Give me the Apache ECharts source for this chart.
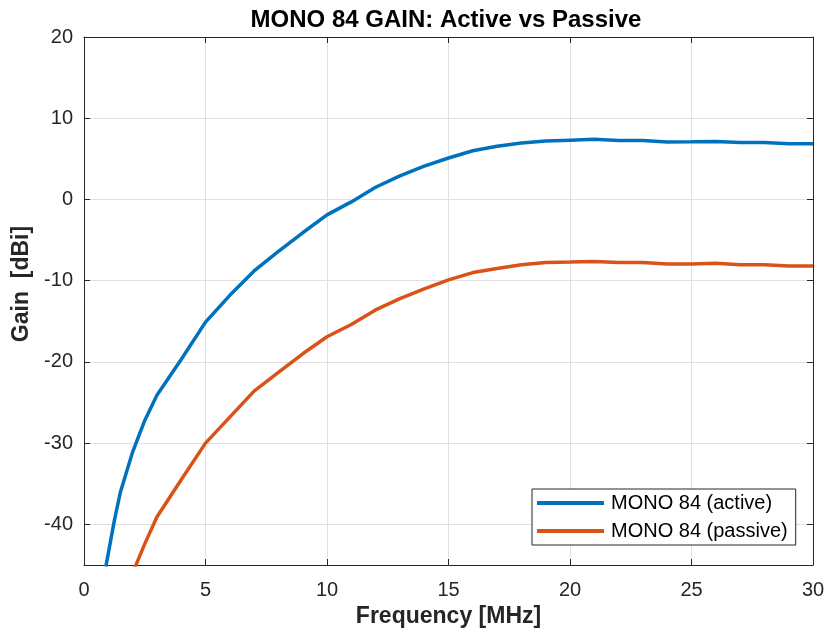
<!DOCTYPE html>
<html>
<head>
<meta charset="utf-8">
<script src="https://cdn.jsdelivr.net/npm/echarts@6/dist/echarts.min.js"></script>
<style>
html,body{margin:0;padding:0;background:#fff;}
#c{width:827px;height:640px;}
</style>
</head>
<body>
<div id="c"></div>
<script>
const freq = [0.9, 1.25, 1.5, 2, 2.5, 3, 4, 5, 6, 7, 8, 9, 10, 11, 12, 13, 14, 15, 16, 17, 18, 19, 20, 21, 22, 23, 24, 25, 26, 27, 28, 29, 30];
const gainActive = [-45.2, -39.5, -36.0, -31.1, -27.2, -24.1, -19.7, -15.1, -11.8, -8.8, -6.4, -4.1, -1.9, -0.3, 1.5, 2.9, 4.1, 5.1, 6.0, 6.55, 6.95, 7.2, 7.3, 7.4, 7.25, 7.25, 7.08, 7.1, 7.15, 7.0, 7.0, 6.87, 6.87];
const gainPassive = [null, null, null, -46.0, -42.4, -39.1, -34.5, -30.0, -26.8, -23.6, -21.3, -19.0, -16.9, -15.4, -13.6, -12.2, -11.0, -9.9, -9.0, -8.5, -8.05, -7.75, -7.7, -7.63, -7.75, -7.75, -7.95, -7.95, -7.85, -8.05, -8.05, -8.2, -8.2];
const seriesNames = ['MONO 84 (active)', 'MONO 84 (passive)'];
const titleText = 'MONO 84 GAIN: Active vs Passive';
const xName = 'Frequency [MHz]';
const yName = 'Gain  [dBi]';

const font = "'Liberation Sans', Arial, Helvetica, sans-serif";
const axisColor = '#262626';
const chart = echarts.init(document.getElementById('c'), null, {renderer: 'canvas'});

function pairs(xs, ys) { return xs.map((x, i) => [x, ys[i]]); }

const baseX = {
  type: 'value', min: 0, max: 30, interval: 5,
  axisLine: {show: true, onZero: false, lineStyle: {color: axisColor, width: 1}},
  axisTick: {show: true, inside: true, length: 6, lineStyle: {color: axisColor}}
};
const baseY = {
  type: 'value', min: -45, max: 20,
  axisLine: {show: true, onZero: false, lineStyle: {color: axisColor, width: 1}},
  axisTick: {show: true, inside: true, length: 6, lineStyle: {color: axisColor}}
};

chart.setOption({
  backgroundColor: '#fff',
  animation: false,
  title: {
    text: titleText, left: 446, top: 8, textAlign: 'center', padding: 0,
    textStyle: {fontFamily: font, fontSize: 24, fontWeight: 'bold', color: '#000'}
  },
  grid: {left: 84, right: 14, top: 37, bottom: 75, containLabel: false, outerBoundsMode: 'none'},
  legend: {
    left: 532, top: 489, orient: 'vertical',
    padding: [4, 8, 4, 5], itemGap: 8,
    itemWidth: 67, itemHeight: 4, icon: 'rect',
    backgroundColor: '#fff', borderColor: axisColor, borderWidth: 1,
    textStyle: {fontFamily: font, fontSize: 20, color: '#000', lineHeight: 20, padding: [0, 0, 0, 2]},
    data: seriesNames
  },
  xAxis: [
    Object.assign({}, baseX, {
      position: 'bottom',
      name: xName, nameLocation: 'middle', nameGap: 30,
      nameTextStyle: {fontFamily: font, fontSize: 23, fontWeight: 'bold', color: axisColor},
      axisLabel: {show: true, margin: 15, fontFamily: font, fontSize: 20, color: axisColor},
      splitLine: {show: true, lineStyle: {color: '#e0e0e0', width: 1}}
    }),
    Object.assign({}, baseX, {
      position: 'top', axisLabel: {show: false}, splitLine: {show: false}
    })
  ],
  yAxis: [
    Object.assign({}, baseY, {
      position: 'left',
      name: yName, nameLocation: 'middle', nameGap: 50,
      nameTextStyle: {fontFamily: font, fontSize: 23, fontWeight: 'bold', color: axisColor, padding: [0, 0, 0, 34]},
      axisLabel: {show: true, margin: 11, showMinLabel: false, fontFamily: font, fontSize: 20, color: axisColor},
      splitLine: {show: true, lineStyle: {color: '#e0e0e0', width: 1}}
    }),
    Object.assign({}, baseY, {
      position: 'right', axisLabel: {show: false}, splitLine: {show: false}
    })
  ],
  series: [
    {
      name: seriesNames[0], type: 'line', data: pairs(freq, gainActive),
      showSymbol: false, symbol: 'none', clip: true,
      lineStyle: {color: '#0072BD', width: 3.5}, itemStyle: {color: '#0072BD'}
    },
    {
      name: seriesNames[1], type: 'line', data: pairs(freq, gainPassive),
      showSymbol: false, symbol: 'none', clip: true,
      lineStyle: {color: '#D95319', width: 3.5}, itemStyle: {color: '#D95319'}
    }
  ]
});
</script>
</body>
</html>
